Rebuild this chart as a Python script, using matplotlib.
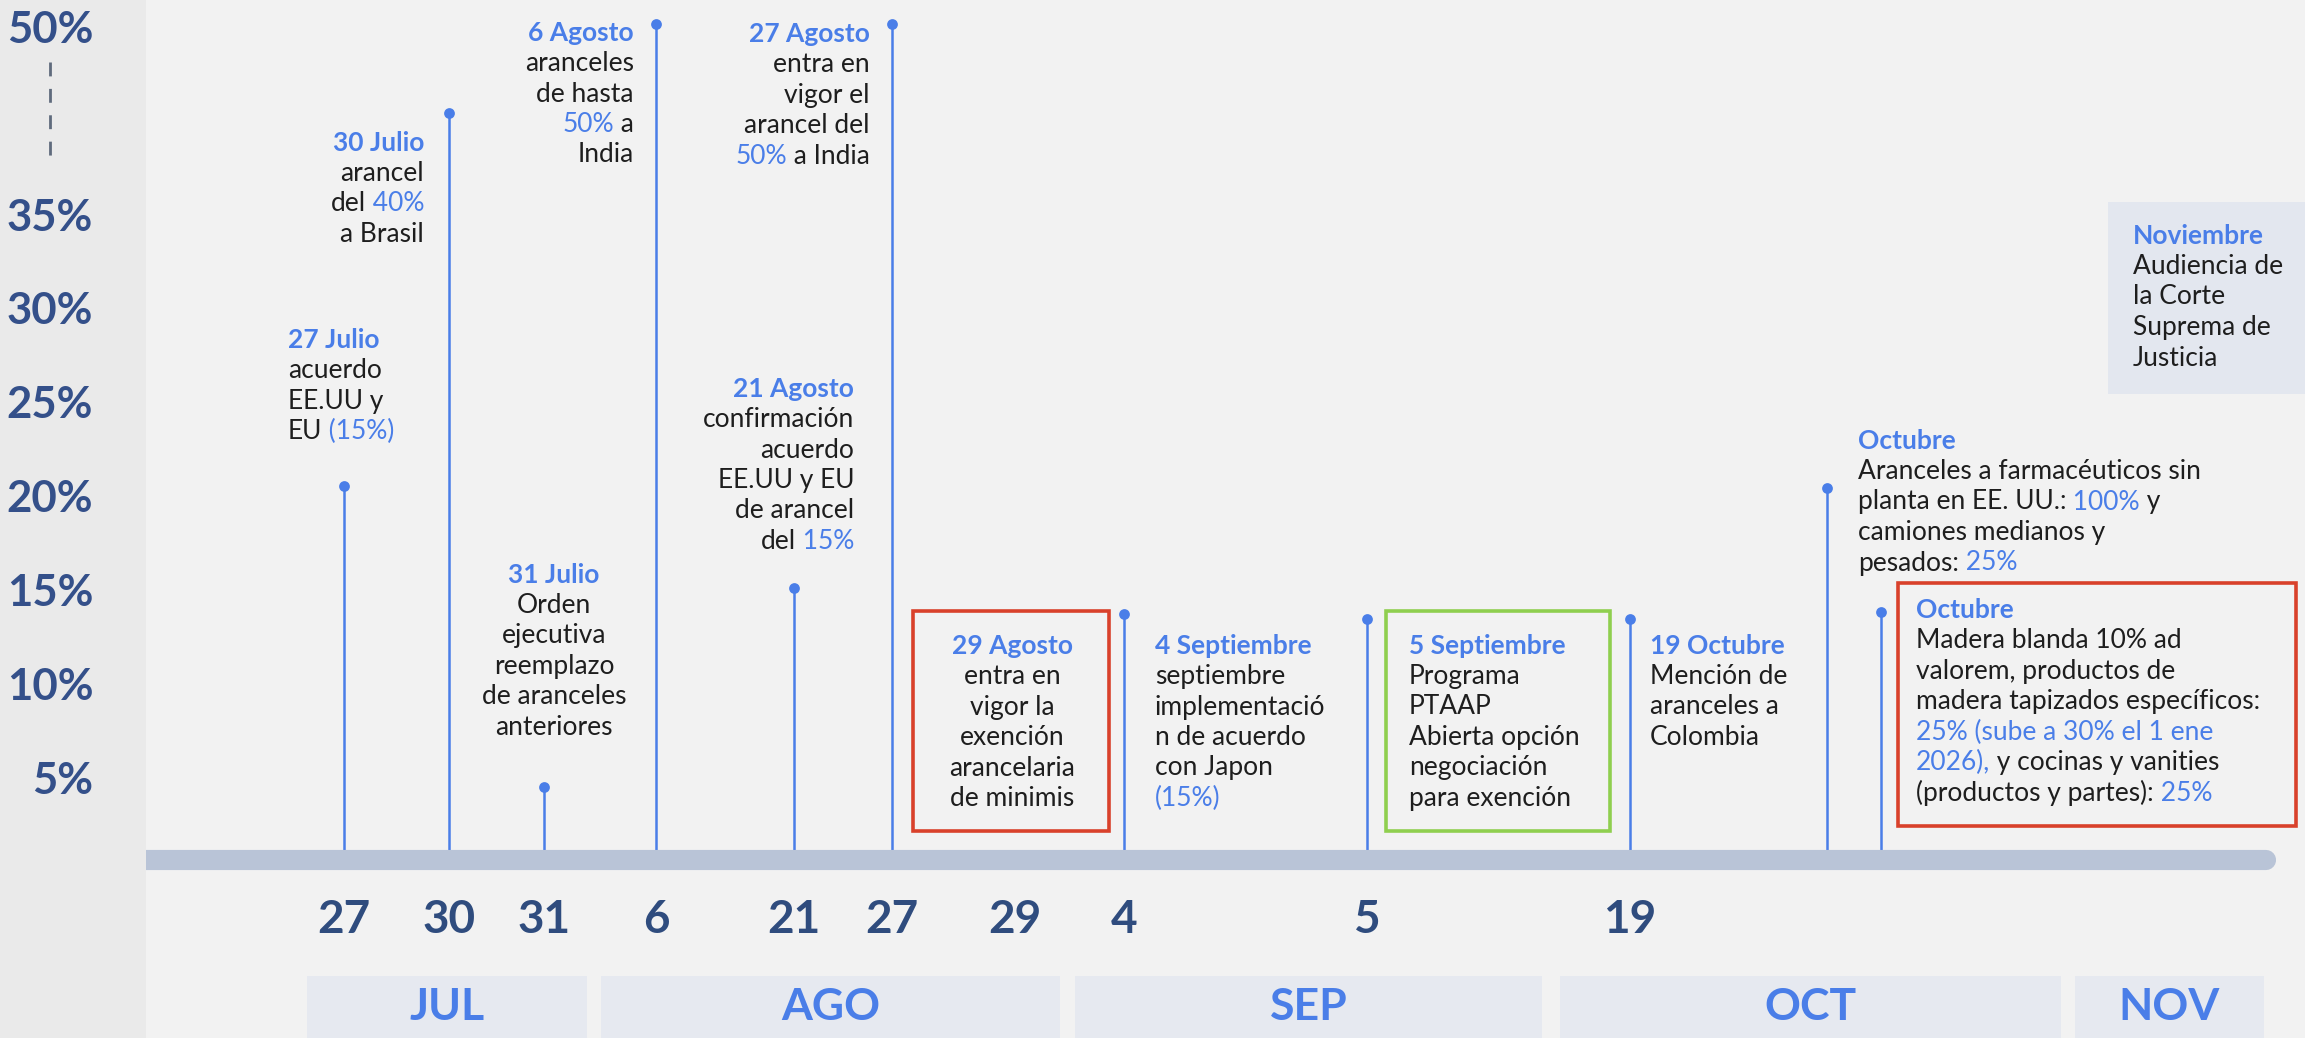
import matplotlib
matplotlib.use('Agg')
import matplotlib.pyplot as plt
from matplotlib.patches import Rectangle

plt.rcParams['font.family'] = ['Lato', 'DejaVu Sans']

# ---- data ----
# y axis is the tariff level (%), the top label "50%" sits on a broken axis at the 45 slot
tick_vals = [5, 10, 15, 20, 25, 30, 35, 45]
tick_labels = ['5%', '10%', '15%', '20%', '25%', '30%', '35%', '50%']

# stems: position along the timeline and height of the stem
event_pos = [344, 449, 544, 656, 794, 892, 1124, 1367, 1630, 1827, 1881]
event_top = [20.5, 40.4, 4.5, 45.1, 15.1, 45.1, 13.7, 13.4, 13.4, 20.4, 13.8]

day_labels = ['27', '30', '31', '6', '21', '27', '29', '4', '5', '19']
day_pos = [344, 449, 544, 656, 794, 892, 1015, 1124, 1367, 1630]

months = ['JUL', 'AGO', 'SEP', 'OCT', 'NOV']
month_start = [307, 601, 1075, 1560, 2075]
month_end = [587, 1060, 1542, 2061, 2264]

BLUE = '#4a7ee8'
NAVY = '#2f4c7e'
BLACK = '#1e1e1e'
K = (BLACK, 'normal')
B = (BLUE, 'normal')

# annotation blocks: title, lines (segments), alignment, x, y of title (px from top), frame
notes = [
    dict(title='27 Julio', ha='left', x=288, y=340,
         lines=[[('acuerdo', K)], [('EE.UU y', K)], [('EU', K), (' (15%)', B)]]),
    dict(title='30 Julio', ha='right', x=424, y=143,
         lines=[[('arancel', K)], [('del', K), (' 40%', B)], [('a Brasil', K)]]),
    dict(title='6 Agosto', ha='right', x=634, y=33,
         lines=[[('aranceles', K)], [('de hasta', K)], [('50%', B), (' a', K)], [('India', K)]]),
    dict(title='27 Agosto', ha='right', x=870, y=34,
         lines=[[('entra en', K)], [('vigor el', K)], [('arancel del', K)], [('50%', B), (' a India', K)]]),
    dict(title='21 Agosto', ha='right', x=854, y=389,
         lines=[[('confirmación', K)], [('acuerdo', K)], [('EE.UU y EU', K)],
                [('de arancel', K)], [('del', K), (' 15%', B)]]),
    dict(title='31 Julio', ha='center', x=554, y=575,
         lines=[[('Orden', K)], [('ejecutiva', K)], [('reemplazo', K)],
                [('de aranceles', K)], [('anteriores', K)]]),
    dict(title='29 Agosto', ha='center', x=1012, y=646, box=(913, 1109, 611, 831, '#d9412b'),
         lines=[[('entra en', K)], [('vigor la', K)], [('exención', K)],
                [('arancelaria', K)], [('de minimis', K)]]),
    dict(title='4 Septiembre', ha='left', x=1155, y=646,
         lines=[[('septiembre', K)], [('implementació', K)], [('n de acuerdo', K)],
                [('con Japon', K)], [('(15%)', B)]]),
    dict(title='5 Septiembre', ha='left', x=1409, y=646, box=(1386, 1610, 611, 831, '#8fcf4f'),
         lines=[[('Programa', K)], [('PTAAP', K)], [('Abierta opción', K)],
                [('negociación', K)], [('para exención', K)]]),
    dict(title='19 Octubre', ha='left', x=1650, y=646,
         lines=[[('Mención de', K)], [('aranceles a', K)], [('Colombia', K)]]),
    dict(title='Octubre', ha='left', x=1858, y=441,
         lines=[[('Aranceles a farmacéuticos sin', K)],
                [('planta en EE. UU.:', K), (' 100%', B), (' y', K)],
                [('camiones medianos y', K)],
                [('pesados:', K), (' 25%', B)]]),
    dict(title='Octubre', ha='left', x=1916, y=610, box=(1898, 2296, 583, 826, '#d9412b'),
         lines=[[('Madera blanda 10% ad', K)], [('valorem, productos de', K)],
                [('madera tapizados específicos:', K)],
                [('25% (sube a 30% el 1 ene', B)],
                [('2026),', B), (' y cocinas y vanities', K)],
                [('(productos y partes):', K), (' 25%', B)]]),
    dict(title='Noviembre', ha='left', x=2133, y=236, fill=(2108, 2305, 202, 394, '#e3e7ef'),
         lines=[[('Audiencia de', K)], [('la Corte', K)], [('Suprema de', K)], [('Justicia', K)]]),
]


def py(px):
    # picture row -> tariff level units
    return (871 - px) / 18.77


W, H = 2305, 1038
fig = plt.figure(figsize=(W / 100, H / 100), dpi=100, facecolor='#eaeaea')
ax = fig.add_axes([146 / W, 0, 1 - 146 / W, 1])
ax.set_facecolor('#f2f2f2')
ax.set_xlim(146, W)
ax.set_ylim(py(H), py(0))
for s in ax.spines.values():
    s.set_visible(False)
ax.set_xticks([])
ax.set_yticks(tick_vals, tick_labels)
ax.tick_params(axis='y', length=0, pad=38, labelsize=31.5, labelcolor='#34508a')
for lb in ax.get_yticklabels():
    lb.set_fontweight('bold')

# broken axis dashes
ax.plot([50, 50], [py(62), py(163)], color='#5f6b7d', lw=2, ls=(0, (5, 4.5)), clip_on=False)

# timeline bar
bar_y = py(860)
ax.plot([100, 2266], [bar_y, bar_y], color='#b9c4d7', lw=14.5, solid_capstyle='round', zorder=3)

# stems
ax.vlines(event_pos, bar_y, event_top, color=BLUE, lw=1.8, zorder=2)
ax.scatter(event_pos, event_top, s=60, color=BLUE, zorder=4, linewidths=0)

# day numbers
for d, x in zip(day_labels, day_pos):
    ax.text(x, py(920), d, ha='center', va='center', fontsize=33, fontweight='bold', color=NAVY)

# month boxes
mc = [(a + b) / 2 for a, b in zip(month_start, month_end)]
mw = [b - a for a, b in zip(month_start, month_end)]
ax.bar(mc, py(976) - py(H), width=mw, bottom=py(H), color='#e6e9f0', zorder=1)
for m, x in zip(months, mc):
    ax.text(x, py(1007), m, ha='center', va='center', fontsize=32, fontweight='bold', color=BLUE)


def draw_line(x, y, segs, ha):
    fs = 19
    if ha == 'right':
        segs = segs[::-1]
    txt, (col, fw) = segs[0]
    prev = ax.text(x, y, txt, ha=ha, va='center', fontsize=fs, color=col, fontweight=fw, zorder=5)
    for txt, (col, fw) in segs[1:]:
        if ha == 'right':
            prev = ax.annotate(txt, xy=(0, 0), xycoords=prev, ha='right', va='bottom',
                               fontsize=fs, color=col, fontweight=fw, zorder=5)
        else:
            prev = ax.annotate(txt, xy=(1, 0), xycoords=prev, ha='left', va='bottom',
                               fontsize=fs, color=col, fontweight=fw, zorder=5)


for n in notes:
    if 'fill' in n:
        x0, x1, y0, y1, c = n['fill']
        ax.add_patch(Rectangle((x0, py(y1)), x1 - x0, py(y0) - py(y1), facecolor=c,
                               edgecolor='none', zorder=1, clip_on=False))
    if 'box' in n:
        x0, x1, y0, y1, c = n['box']
        ax.add_patch(Rectangle((x0, py(y1)), x1 - x0, py(y0) - py(y1), facecolor='none',
                               edgecolor=c, lw=2.6, zorder=1))
    draw_line(n['x'], py(n['y']), [(n['title'], (BLUE, 'bold'))], n['ha'])
    for i, segs in enumerate(n['lines']):
        draw_line(n['x'], py(n['y'] + 30.5 * (i + 1)), segs, n['ha'])

fig.savefig('out.png', dpi=100, facecolor=fig.get_facecolor())
